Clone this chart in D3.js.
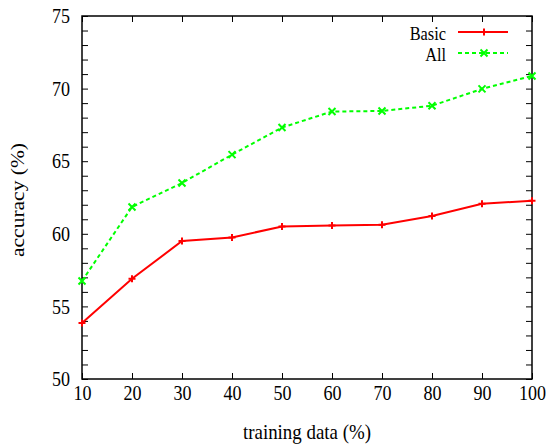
<!DOCTYPE html>
<html>
<head>
<meta charset="utf-8">
<script src="https://cdn.jsdelivr.net/npm/d3@7"></script>
<style>
	body { margin: 0; background: white; }
	svg text { font-family: "Liberation Serif", "DejaVu Serif", serif; fill: #000; }
</style>
</head>
<body>
<div id="chart"></div>
<script>
// Values.
let trainingData = [10, 20, 30, 40, 50, 60, 70, 80, 90, 100];
let basicValues = [53.86, 56.9, 59.5, 59.75, 60.5, 60.58, 60.62, 61.22, 62.07, 62.28];
let allValues = [56.75, 61.85, 63.5, 65.45, 67.32, 68.42, 68.46, 68.82, 69.98, 70.87];
let yTickLabels = [50, 55, 60, 65, 70, 75];

let series = [
	{name: "Basic", values: basicValues, color: "#ff0000", dash: null, marker: "plus"},
	{name: "All", values: allValues, color: "#00ff00", dash: "4,3", marker: "cross"},
];

let width = 549, height = 444;
let margin = {top: 16, right: 17, bottom: 65, left: 82};

// The original text looks squeezed sideways, so squash it a little.
let squeeze = 0.86;

let svg = d3.select("#chart").append("svg")
	.attr("width", width)
	.attr("height", height);

let x = d3.scaleLinear().domain([10, 100]).range([margin.left, width - margin.right]);
let y = d3.scaleLinear().domain([50, 75]).range([height - margin.bottom, margin.top]);

function squash(sel){
	// Keep the anchor where it was, only narrow the glyphs.
	sel.each(function(){
		let t = d3.select(this);
		let tx = +(t.attr("x") || 0);
		t.attr("x", tx / squeeze).attr("transform", `scale(${ squeeze },1)`);
	});
} // squash

// Ticks point inwards on all four sides, minor ticks every unit on y.
let yMinor = d3.range(50, 76, 1);
let tickLen = 6;

svg.append("g")
	.attr("transform", `translate(0,${ y(50) })`)
	.call(d3.axisBottom(x).tickValues(trainingData).tickSize(-tickLen).tickPadding(6))
	.call(g => g.select(".domain").remove())
	.call(g => g.selectAll("text").attr("font-size", 21).call(squash));

svg.append("g")
	.attr("transform", `translate(0,${ y(75) })`)
	.call(d3.axisTop(x).tickValues(trainingData).tickSize(-tickLen).tickFormat(""))
	.call(g => g.select(".domain").remove());

svg.append("g")
	.attr("transform", `translate(${ x(10) },0)`)
	.call(d3.axisLeft(y).tickValues(yMinor).tickSize(-tickLen).tickPadding(12)
		.tickFormat(d => yTickLabels.includes(d) ? d : ""))
	.call(g => g.select(".domain").remove())
	.call(g => g.selectAll("text").attr("font-size", 21).call(squash));

svg.append("g")
	.attr("transform", `translate(${ x(100) },0)`)
	.call(d3.axisRight(y).tickValues(yMinor).tickSize(-tickLen).tickFormat(""))
	.call(g => g.select(".domain").remove());

svg.selectAll(".tick line").attr("stroke", "#000").attr("stroke-width", 1);

// Plot frame.
svg.append("rect")
	.attr("x", x(10))
	.attr("y", y(75))
	.attr("width", x(100) - x(10))
	.attr("height", y(50) - y(75))
	.attr("fill", "none")
	.attr("stroke", "#000")
	.attr("stroke-width", 1.5);

// Axis titles.
svg.append("text")
	.attr("x", (x(10) + x(100)) / 2)
	.attr("y", 439)
	.attr("text-anchor", "middle")
	.attr("font-size", 22)
	.text("training data (%)")
	.call(squash);

svg.append("text")
	.attr("transform", `translate(24,200) rotate(-90) scale(1,${ squeeze })`)
	.attr("text-anchor", "middle")
	.attr("font-size", 21.5)
	.text("accuracy (%)");

function drawMarker(g, mx, my, kind, color){
	let s = 3.5;
	let path = kind == "plus"
		? `M${mx - s},${my}H${mx + s}M${mx},${my - s}V${my + s}`
		: `M${mx - s},${my - s}L${mx + s},${my + s}M${mx - s},${my + s}L${mx + s},${my - s}`;
	g.append("path")
		.attr("d", path)
		.attr("stroke", color)
		.attr("stroke-width", 2)
		.attr("fill", "none");
} // drawMarker

let line = d3.line()
	.x((d, i) => x(trainingData[i]))
	.y(d => y(d));

series.forEach(s => {
	let g = svg.append("g").attr("class", s.name);
	g.append("path")
		.datum(s.values)
		.attr("d", line)
		.attr("fill", "none")
		.attr("stroke", s.color)
		.attr("stroke-width", 2)
		.attr("stroke-dasharray", s.dash);
	s.values.forEach((v, i) => drawMarker(g, x(trainingData[i]), y(v), s.marker, s.color));
});

// Legend.
series.forEach((s, i) => {
	let ly = 32 + i * 21;
	let g = svg.append("g").attr("class", "legend");
	g.append("text")
		.attr("x", 446)
		.attr("y", ly + 8)
		.attr("text-anchor", "end")
		.attr("font-size", 19)
		.text(s.name)
		.call(squash);
	g.append("line")
		.attr("x1", 458).attr("x2", 508)
		.attr("y1", ly).attr("y2", ly)
		.attr("stroke", s.color)
		.attr("stroke-width", 2)
		.attr("stroke-dasharray", s.dash);
	drawMarker(g, 484, ly, s.marker, s.color);
});
</script>
</body>
</html>
